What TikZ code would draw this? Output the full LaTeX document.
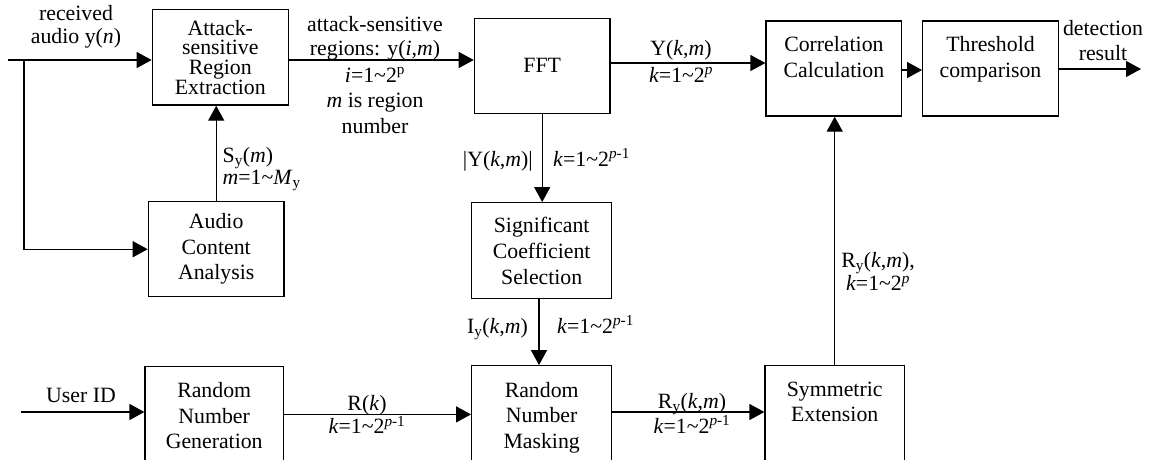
\documentclass[tikz,border=0pt]{standalone}
\usepackage{fontspec}
\setmainfont{Liberation Serif}
\usetikzlibrary{arrows.meta}
\newcommand{\tild}{\textasciitilde}
\begin{document}
\begin{tikzpicture}[x=1pt,y=-1pt,
  font=\fontsize{21.8}{25.5}\selectfont,
  box/.style={draw,line width=1.3pt,inner sep=0pt,align=center},
  txt/.style={inner sep=0pt,align=center},
  arr/.style={line width=1.3pt,-{Triangle[length=15pt,width=16pt]}}]
\useasboundingbox (0,0) rectangle (1151,459);

% boxes
\node[box,minimum width=136pt,minimum height=95.7pt,font=\fontsize{21.8}{19.7}\selectfont] (ase) at (220.3,57.2) {Attack-\\sensitive\\Region\\Extraction};
\node[box,minimum width=135.7pt,minimum height=95pt] (aca) at (216.2,249.2) {Audio\\Content\\Analysis};
\node[box,minimum width=135.7pt,minimum height=95pt] (fft) at (542.2,65.8) {FFT};
\node[box,minimum width=135.7pt,minimum height=95pt] (corr) at (833.9,68.5) {};
\node[txt,anchor=north] (corrT) at (833.9,36.5) {Correlation\\Calculation};
\node[box,minimum width=135.6pt,minimum height=95pt] (thr) at (990.5,68.5) {};
\node[txt,anchor=north] (thrT) at (990.5,36.5) {Threshold\\comparison};
\node[box,minimum width=140pt,minimum height=95.6pt,font=\fontsize{21.8}{26}\selectfont] (sig) at (541.7,250.5) {Significant\\Coefficient\\Selection};
\node[box,minimum width=138.3pt,minimum height=95.3pt] (rng) at (214.2,414.4) {};
\node[txt,anchor=north,font=\fontsize{21.8}{25.7}\selectfont] (rngT) at (214.2,382) {Random\\Number\\Generation};
\node[box,minimum width=140pt,minimum height=95.3pt] (rnm) at (541.7,413.4) {};
\node[txt,anchor=north,font=\fontsize{21.8}{25.7}\selectfont] (rnmT) at (541.7,381.7) {Random\\Number\\Masking};
\node[box,minimum width=139.3pt,minimum height=95.3pt] (sym) at (834.7,413.4) {};
\node[txt,anchor=north] (symT) at (834.7,381.7) {Symmetric\\Extension};

% connectors
\coordinate (in) at (8,60);
\coordinate (br) at (24,60);
\draw[arr] (in) -- (in -| ase.west);
\draw[arr] (br) |- (aca.west);
\draw[arr] (aca.north) -- (aca.north |- ase.south);
\draw[arr] (in -| ase.east) -- (in -| fft.west);
\path ([yshift=2.8pt]fft.east) coordinate (fo);
\draw[arr] (fo) -- (fo -| corr.west);
\path ([yshift=-1.5pt]corr.east) coordinate (co);
\draw[arr] (co) -- (co -| thr.west);
\coordinate (out) at (1141,69);
\draw[arr] (out -| thr.east) -- (out);
\draw[arr] (fft.south) -- (fft.south |- sig.north);
\path ([xshift=-2.7pt]sig.south) coordinate (so);
\draw[arr] (so) -- (so |- rnm.north);
\coordinate (uid) at (21,412);
\draw[arr] (uid) -- (uid -| rng.west);
\draw[arr] (rng.east) -- (rng.east -| rnm.west);
\draw[arr] (rnm.east |- uid) -- (uid -| sym.west);
\draw[arr] (sym.north) -- (sym.north |- corr.south);

% labels
\node[txt,anchor=north,font=\fontsize{21.8}{23.5}\selectfont] (recv) at (76,5) {received\\audio y(\textit{n})};
\node[txt,anchor=north west,align=left,font=\fontsize{21.8}{22.5}\selectfont] (sy) at (222.5,147) {S\textsubscript{y}(\textit{m})\\\textit{m}=1\tild\textit{M}\textsubscript{y}};
\node[txt,anchor=north,font=\fontsize{21.8}{23.3}\selectfont] (asA) at (375,16.5) {attack-sensitive\\regions: y(\textit{i},\textit{m})};
\node[txt,anchor=north,font=\fontsize{21.8}{25.3}\selectfont] (asB) at (375,67.5) {\textit{i}=1\tild2\textsuperscript{p}\\\textit{m} is region\\number};
\node[txt,anchor=north,font=\fontsize{21.8}{26.7}\selectfont] (Ykm) at (681,40) {Y(\textit{k},\textit{m})\\\textit{k}=1\tild2\textsuperscript{\textit{p}}};
\node[txt,anchor=north] (det) at (1103,20) {detection\\result};
\node[txt,anchor=base east] (absY) at (533,166) {|Y(\textit{k},\textit{m})|};
\node[txt,anchor=base west] (kA) at (553,166) {\textit{k}=1\tild2\textsuperscript{\textit{p}-1}};
\node[txt,anchor=base east] (Iy) at (528,333) {I\textsubscript{y}(\textit{k},\textit{m})};
\node[txt,anchor=base west] (kB) at (557,333) {\textit{k}=1\tild2\textsuperscript{\textit{p}-1}};
\node[txt,anchor=base] (uidT) at (81,402) {User ID};
\node[txt,anchor=north,font=\fontsize{21.8}{22}\selectfont] (Rk) at (367,395) {R(\textit{k})\\\textit{k}=1\tild2\textsuperscript{\textit{p}-1}};
\node[txt,anchor=north,font=\fontsize{21.8}{23.5}\selectfont] (Ry1) at (692,393) {R\textsubscript{y}(\textit{k},\textit{m})\\\textit{k}=1\tild2\textsuperscript{\textit{p}-1}};
\node[txt,anchor=north,font=\fontsize{21.8}{23.3}\selectfont] (Ry2) at (878,252) {R\textsubscript{y}(\textit{k},\textit{m}),\\\textit{k}=1\tild2\textsuperscript{\textit{p}}};
\end{tikzpicture}
\end{document}
